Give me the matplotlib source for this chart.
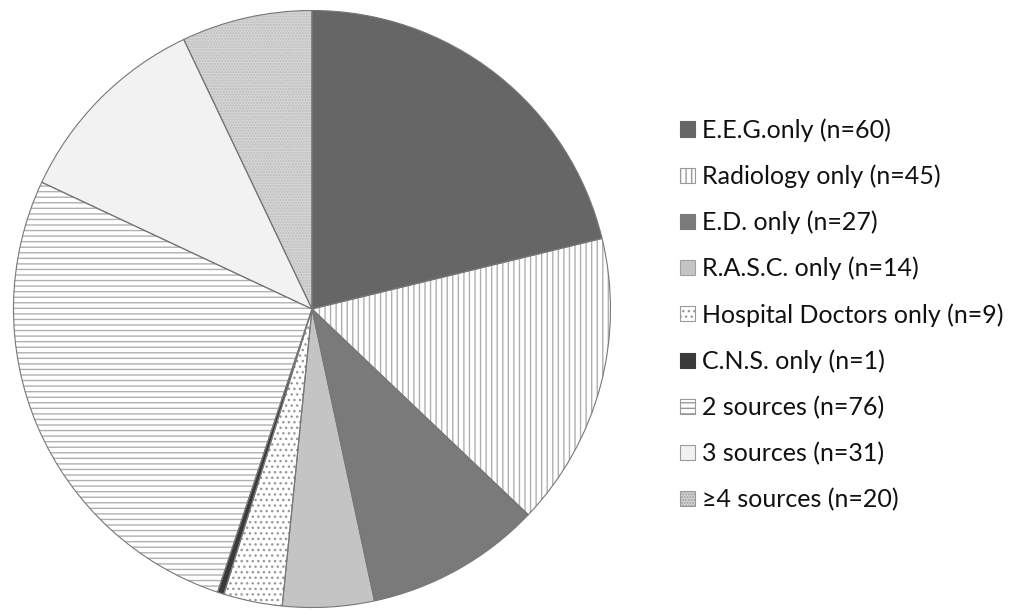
import matplotlib.pyplot as plt
from matplotlib.patches import Rectangle

plt.rcParams['font.family'] = ['Lato', 'DejaVu Sans']
plt.rcParams['hatch.linewidth'] = 1.0

labels = ["E.E.G.only (n=60)", "Radiology only (n=45)", "E.D. only (n=27)",
          "R.A.S.C. only (n=14)", "Hospital Doctors only (n=9)", "C.N.S. only (n=1)",
          "2 sources (n=76)", "3 sources (n=31)", "\u22654 sources (n=20)"]
counts = [60, 45, 27, 14, 9, 1, 76, 31, 20]
faces = ["#666666", "white", "#7a7a7a", "#c4c4c4", "white", "#3a3a3a",
         "white", "#f2f2f2", "#d6d6d6"]
hatches = [None, "|||", None, None, "...", None, "---", None, "......"]
hatch_cols = ["#666666", "#b0b0b0", "#7a7a7a", "#c4c4c4", "#999999", "#3a3a3a",
              "#b0b0b0", "#f2f2f2", "#bcbcbc"]
box_edges = ["#666666", "#999999", "#7a7a7a", "#a0a0a0", "#999999", "#3a3a3a",
             "#999999", "#999999", "#999999"]

W, H = 1015, 612
fig = plt.figure(figsize=(W / 100, H / 100), dpi=100)
cx, cy, r = 312, 309, 300
ax = fig.add_axes([(cx - r) / W, (H - cy - r) / H, 2 * r / W, 2 * r / H])

# fill + hatch pass
wedges, _ = ax.pie(counts, startangle=90, counterclock=False, radius=1)
for w, fc, h, hc in zip(wedges, faces, hatches, hatch_cols):
    w.set_facecolor(fc)
    w.set_edgecolor(hc)
    w.set_linewidth(0)
    if h:
        w.set_hatch(h)
# outline pass
outl, _ = ax.pie(counts, startangle=90, counterclock=False, radius=1,
                 wedgeprops=dict(fill=False, edgecolor="#777777", linewidth=0.8))
ax.set_xlim(-1.005, 1.005)
ax.set_ylim(-1.005, 1.005)
ax.axis("off")

# legend
y0, dy = 129, 46.2
for i, lab in enumerate(labels):
    y = y0 + i * dy
    sq = 15
    rect = Rectangle((680 / W, (H - y - sq / 2) / H), sq / W, sq / H,
                     transform=fig.transFigure, facecolor=faces[i],
                     edgecolor=box_edges[i], linewidth=0.8, hatch=hatches[i])
    fig.patches.append(rect)
    fig.text(702 / W, (H - y - 1) / H, lab, fontsize=18, va="center", ha="left",
             color="#111111")

fig.savefig("out.png", dpi=100)
